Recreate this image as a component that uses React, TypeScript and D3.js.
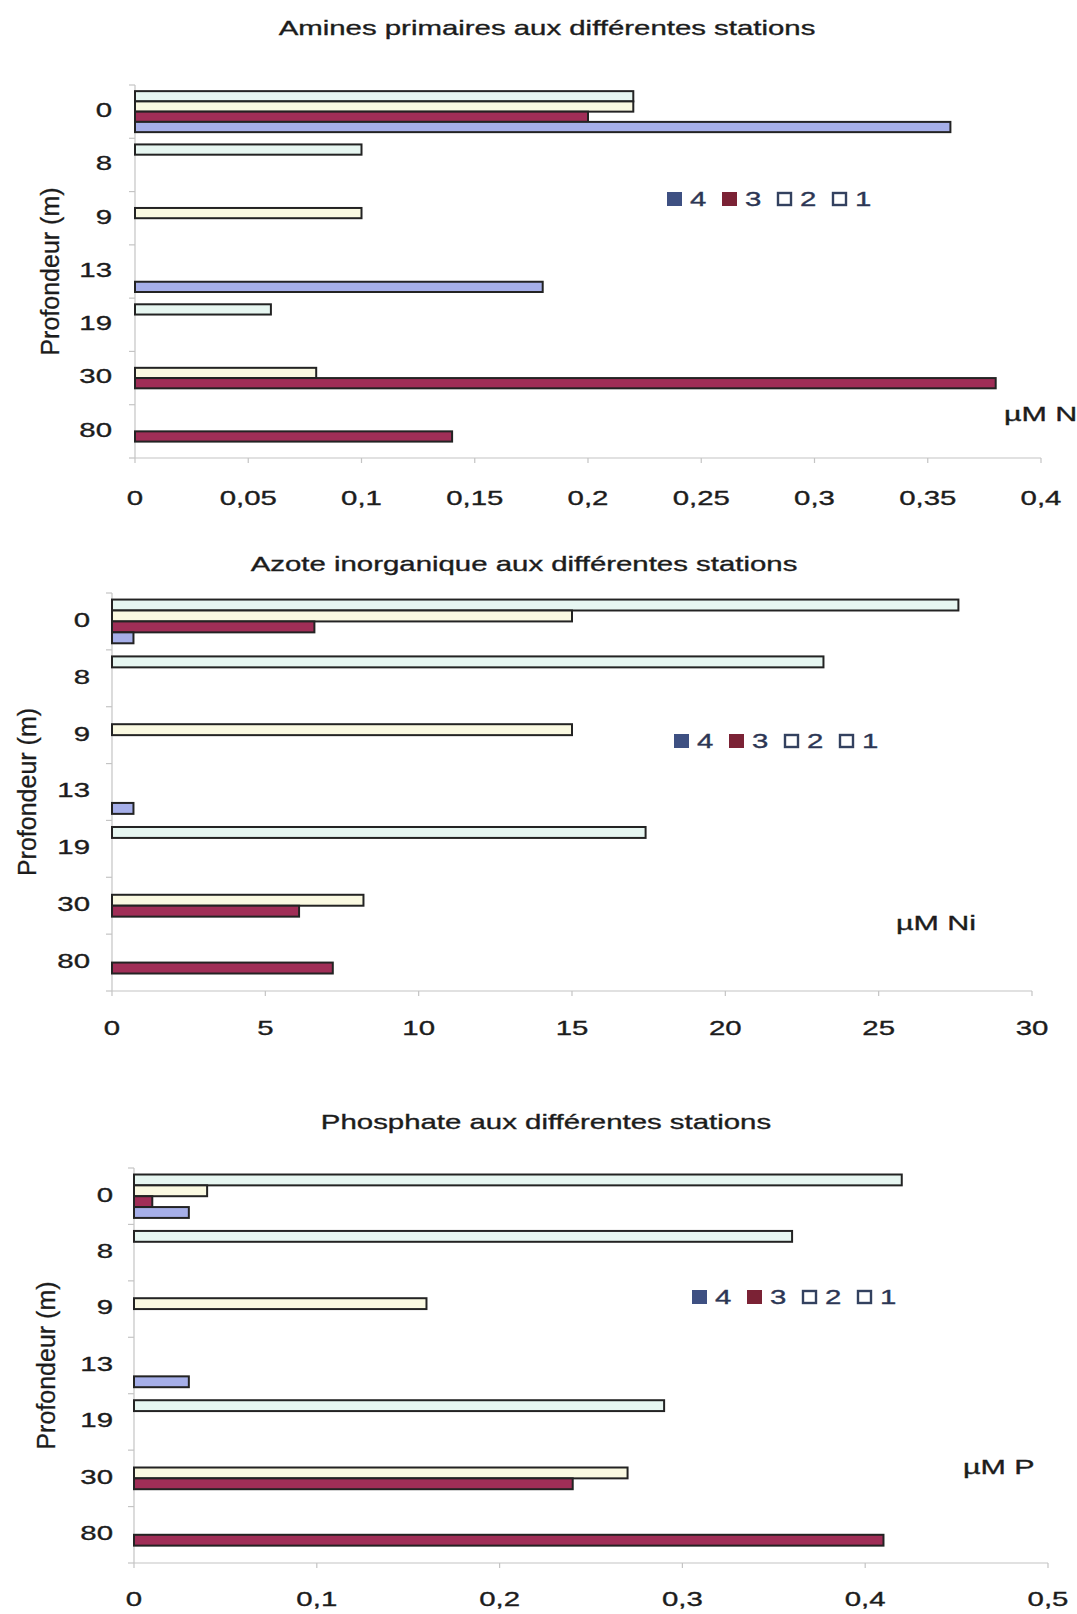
import React from "react";
import * as d3 from "d3";

// Sampling depths (m), top to bottom
const depths = ["0", "8", "9", "13", "19", "30", "80"];
const stations = ["1", "2", "3", "4"];
const legendOrder = ["4", "3", "2", "1"];

// Amines primaires (µM N) per station, aligned with depths; null = no sample
const aminesS1 = [0.22, 0.1, null, null, 0.06, null, null];
const aminesS2 = [0.22, null, 0.1, null, null, 0.08, null];
const aminesS3 = [0.2, null, null, null, null, 0.38, 0.14];
const aminesS4 = [0.36, null, null, 0.18, null, null, null];
const aminesTicks = [0, 0.05, 0.1, 0.15, 0.2, 0.25, 0.3, 0.35, 0.4];

// Azote inorganique (µM Ni)
const azoteS1 = [27.6, 23.2, null, null, 17.4, null, null];
const azoteS2 = [15.0, null, 15.0, null, null, 8.2, null];
const azoteS3 = [6.6, null, null, null, null, 6.1, 7.2];
const azoteS4 = [0.7, null, null, 0.7, null, null, null];
const azoteTicks = [0, 5, 10, 15, 20, 25, 30];

// Phosphate (µM P)
const phosS1 = [0.42, 0.36, null, null, 0.29, null, null];
const phosS2 = [0.04, null, 0.16, null, null, 0.27, null];
const phosS3 = [0.01, null, null, null, null, 0.24, 0.41];
const phosS4 = [0.03, null, null, 0.03, null, null, null];
const phosTicks = [0, 0.1, 0.2, 0.3, 0.4, 0.5];

const FONT = "'Liberation Sans', Arial, Helvetica, sans-serif";
const INK = "#1c1c1c";
const WIDE = 1.4; // horizontal stretch of the wide lettering

const barFill: Record<string, string> = {
  "1": "#e6f6f1",
  "2": "#faf9e1",
  "3": "#a02e57",
  "4": "#a6afe9",
};
const legendFill: Record<string, string> = {
  "1": "#ffffff",
  "2": "#ffffff",
  "3": "#7b2235",
  "4": "#3e5082",
};

const fmt = (v: number) => String(v).replace(".", ",");

// Horizontally stretched text anchored at (x, y)
function Txt(props: {
  x: number;
  y: number;
  anchor?: "start" | "middle" | "end";
  size?: number;
  fill?: string;
  sx?: number;
  children: React.ReactNode;
}) {
  const { x, y, anchor = "start", size = 21, fill = INK, sx = WIDE, children } = props;
  return (
    <text
      transform={`translate(${x},${y}) scale(${sx},1)`}
      textAnchor={anchor}
      dominantBaseline="central"
      fontSize={size}
      fill={fill}
      stroke={fill}
      strokeWidth={0.35}
    >
      {children}
    </text>
  );
}

type PanelProps = {
  title: string;
  titleX: number;
  titleY: number;
  series: (number | null)[][];
  ticks: number[];
  x0: number;
  x1: number;
  top: number;
  bottom: number;
  labelRight: number;
  tickLabelY: number;
  axisTitleX: number;
  legendX: number;
  legendY: number;
  unit: string;
  unitX: number;
  unitY: number;
};

function Panel(p: PanelProps) {
  const x = d3
    .scaleLinear()
    .domain([0, p.ticks[p.ticks.length - 1]])
    .range([p.x0, p.x1]);
  const y = d3.scaleBand<string>().domain(depths).range([p.top, p.bottom]);
  const inner = d3
    .scaleBand<string>()
    .domain(stations)
    .range([0, y.bandwidth()])
    .paddingOuter(0.6);
  const boundaries = d3.range(depths.length + 1).map((i) => p.top + i * y.step());

  return (
    <g fontFamily={FONT}>
      <Txt x={p.titleX} y={p.titleY} anchor="middle">
        {p.title}
      </Txt>

      {/* axes */}
      <line x1={p.x0} x2={p.x0} y1={p.top} y2={p.bottom} stroke="#c4c4c4" strokeWidth={1.2} />
      {boundaries.map((b, i) => (
        <line key={"yt" + i} x1={p.x0 - 6} x2={p.x0} y1={b} y2={b} stroke="#c4c4c4" strokeWidth={1.2} />
      ))}
      <line x1={p.x0} x2={p.x1} y1={p.bottom} y2={p.bottom} stroke="#c4c4c4" strokeWidth={1.2} />
      {p.ticks.map((t) => (
        <line key={"xt" + t} x1={x(t)} x2={x(t)} y1={p.bottom} y2={p.bottom + 5} stroke="#c4c4c4" strokeWidth={1.2} />
      ))}

      {/* bars */}
      {stations.map((s, si) =>
        p.series[si].map((v, di) =>
          v == null ? null : (
            <rect
              key={s + "-" + di}
              x={x(0)}
              y={(y(depths[di]) as number) + (inner(s) as number)}
              width={x(v) - x(0)}
              height={inner.bandwidth()}
              fill={barFill[s]}
              stroke="#232323"
              strokeWidth={2}
            />
          )
        )
      )}

      {/* depth labels */}
      {depths.map((d) => (
        <Txt key={"yl" + d} x={p.labelRight} y={(y(d) as number) + y.bandwidth() / 2 - 2} anchor="end">
          {d}
        </Txt>
      ))}
      {p.ticks.map((t) => (
        <Txt key={"xl" + t} x={x(t)} y={p.tickLabelY} anchor="middle">
          {fmt(t)}
        </Txt>
      ))}

      <text
        transform={`translate(${p.axisTitleX},${(p.top + p.bottom) / 2}) rotate(-90)`}
        textAnchor="middle"
        dominantBaseline="central"
        fontSize={25}
        fill={INK}
        stroke={INK}
        strokeWidth={0.3}
      >
        Profondeur (m)
      </text>

      {/* legend */}
      {legendOrder.map((s, i) => (
        <g key={"lg" + s} transform={`translate(${p.legendX + i * 55},${p.legendY})`}>
          <rect
            x={s === "1" || s === "2" ? 1 : 0}
            y={s === "1" || s === "2" ? -6 : -7}
            width={s === "1" || s === "2" ? 13 : 15}
            height={s === "1" || s === "2" ? 12 : 14}
            fill={legendFill[s]}
            stroke={s === "1" || s === "2" ? "#33415f" : "none"}
            strokeWidth={2.4}
          />
          <Txt x={23} y={0} fill="#2c3654">
            {s}
          </Txt>
        </g>
      ))}

      <Txt x={p.unitX} y={p.unitY} sx={1.45}>
        {p.unit}
      </Txt>
    </g>
  );
}

export default function App() {
  return (
    <svg
      width={1077}
      height={1614}
      style={{ position: "absolute", left: 0, top: 0, background: "#fff" }}
    >
      <Panel
        title="Amines primaires aux différentes stations"
        titleX={547}
        titleY={28}
        series={[aminesS1, aminesS2, aminesS3, aminesS4]}
        ticks={aminesTicks}
        x0={135}
        x1={1041}
        top={85}
        bottom={458}
        labelRight={112}
        tickLabelY={498}
        axisTitleX={50}
        legendX={667}
        legendY={199}
        unit="µM N"
        unitX={1004}
        unitY={414}
      />
      <Panel
        title="Azote inorganique aux différentes stations"
        titleX={524}
        titleY={564}
        series={[azoteS1, azoteS2, azoteS3, azoteS4]}
        ticks={azoteTicks}
        x0={112}
        x1={1032}
        top={593}
        bottom={991}
        labelRight={90}
        tickLabelY={1028}
        axisTitleX={27}
        legendX={674}
        legendY={741}
        unit="µM Ni"
        unitX={896}
        unitY={923}
      />
      <Panel
        title="Phosphate aux différentes stations"
        titleX={546}
        titleY={1122}
        series={[phosS1, phosS2, phosS3, phosS4]}
        ticks={phosTicks}
        x0={134}
        x1={1048}
        top={1168}
        bottom={1563}
        labelRight={113}
        tickLabelY={1599}
        axisTitleX={46}
        legendX={692}
        legendY={1297}
        unit="µM P"
        unitX={963}
        unitY={1467}
      />
    </svg>
  );
}
